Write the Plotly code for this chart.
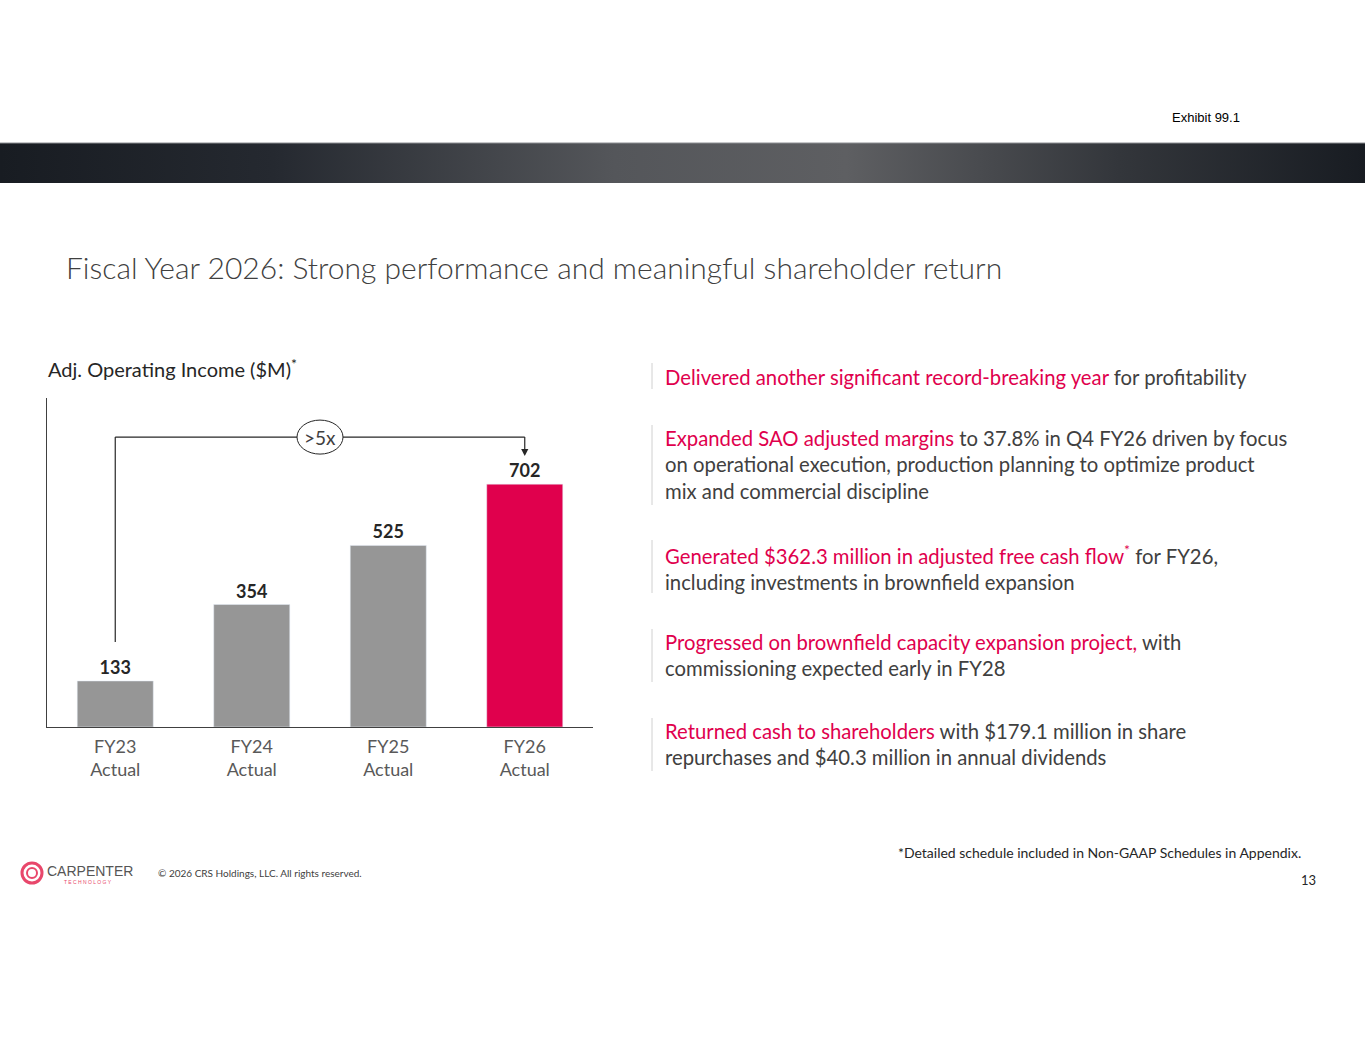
import plotly.graph_objects as go

# chart data
categories = ["FY23", "FY24", "FY25", "FY26"]
tick_labels = ["FY23<br>Actual", "FY24<br>Actual", "FY25<br>Actual", "FY26<br>Actual"]
income = [133, 354, 525, 702]
bar_colors = ["#969696", "#969696", "#969696", "#e0004d"]

# bracket levels (in $M units on the chart scale)
bracket_start = 246
bracket_top = 838
arrow_tip = 783
multiple_label = ">5x"

W, H = 1365, 1055
RED = "#e0004d"
DARK = "#404040"
FONT = "Lato"


def px(x):
    return x / W


def py(y):
    return 1 - y / H


fig = go.Figure()

fig.add_trace(go.Bar(
    x=categories, y=income, marker_color=bar_colors,
    texttemplate="<b>%{y}</b>", textposition="outside",
    textfont=dict(family=FONT, size=18, color="#262626"),
    cliponaxis=False, hoverinfo="skip", xaxis="x", yaxis="y",
))

# header band with horizontal gradient
fig.add_trace(go.Scatter(
    x=[0, 1, 1, 0, 0], y=[0, 0, 1, 1, 0], mode="lines", fill="toself",
    line=dict(width=0), hoverinfo="skip", xaxis="x2", yaxis="y2",
    fillgradient=dict(type="horizontal", colorscale=[
        [0, "#181c22"], [0.2, "#252930"], [0.45, "#54565a"],
        [0.62, "#5e5f62"], [0.82, "#33363b"], [1, "#181c22"]]),
))

shapes = [
    # bracket
    dict(type="line", xref="x", yref="y", x0=0, x1=0, y0=bracket_start, y1=bracket_top,
         line=dict(color="#262626", width=1.2)),
    dict(type="line", xref="x", yref="y", x0=0, x1=3, y0=bracket_top, y1=bracket_top,
         line=dict(color="#262626", width=1.2)),
    dict(type="line", xref="x", yref="y", x0=3, x1=3, y0=bracket_top, y1=arrow_tip + 15,
         line=dict(color="#262626", width=1.2)),
    dict(type="circle", xref="x", yref="y", xsizemode="pixel", ysizemode="pixel",
         xanchor=1.5, yanchor=bracket_top, x0=-23, x1=23, y0=-17, y1=17,
         fillcolor="white", line=dict(color="#262626", width=1)),
    # top line of header band
    dict(type="line", xref="paper", yref="paper", x0=0, x1=1, y0=py(143), y1=py(143),
         line=dict(color="#8c8e92", width=1)),
    # logo ring
    dict(type="circle", xref="paper", yref="paper", x0=px(22), x1=px(42), y0=py(883), y1=py(863),
         line=dict(color="#e8476b", width=3)),
    dict(type="circle", xref="paper", yref="paper", x0=px(27), x1=px(37), y0=py(878), y1=py(868),
         line=dict(color="#e8476b", width=2)),
]

# separators for the right-hand text blocks
blocks = [(363, 389), (425, 505), (540, 593), (629, 682), (718, 771)]
for top, bot in blocks:
    shapes.append(dict(type="line", xref="paper", yref="paper", x0=px(652), x1=px(652),
                       y0=py(top), y1=py(bot), line=dict(color="#d0d0d0", width=1)))

r = lambda s: '<span style="color:%s">%s</span>' % (RED, s)
bullets = [
    r("Delivered another significant record-breaking year") + " for profitability",
    r("Expanded SAO adjusted margins") + " to 37.8% in Q4 FY26 driven by focus<br>"
    "on operational execution, production planning to optimize product<br>mix and commercial discipline",
    r("Generated $362.3 million in adjusted free cash flow<sup>*</sup>") + " for FY26,<br>"
    "including investments in brownfield expansion",
    r("Progressed on brownfield capacity expansion project,") + " with<br>"
    "commissioning expected early in FY28",
    r("Returned cash to shareholders") + " with $179.1 million in share<br>"
    "repurchases and $40.3 million in annual dividends",
]

annotations = [
    dict(text="Exhibit 99.1", x=px(1170), y=py(117), xanchor="left", yanchor="middle",
         font=dict(family="Liberation Sans", size=13, color="#000000")),
    dict(text="Fiscal Year 2026: Strong performance and meaningful shareholder return",
         x=px(64), y=py(267), xanchor="left", yanchor="middle",
         font=dict(family=FONT, size=30, color=DARK, weight=300)),
    dict(text="Adj. Operating Income ($M)<sup>*</sup>", x=px(46), y=py(368),
         xanchor="left", yanchor="middle", font=dict(family=FONT, size=20, color="#262626")),
    dict(text=multiple_label, xref="x", yref="y", x=1.5, y=bracket_top, showarrow=False,
         font=dict(family=FONT, size=19, color=DARK)),
    dict(text="", xref="x", yref="y", x=3, y=arrow_tip, axref="x", ayref="y", ax=3, ay=arrow_tip + 16,
         showarrow=True, arrowhead=2, arrowsize=1.2, arrowwidth=1.2, arrowcolor="#262626"),
    dict(text="*Detailed schedule included in Non-GAAP Schedules in Appendix.",
         x=px(1303), y=py(852), xanchor="right", yanchor="middle",
         font=dict(family=FONT, size=14, color="#262626")),
    dict(text="13", x=px(1318), y=py(880), xanchor="right", yanchor="middle",
         font=dict(family=FONT, size=13, color="#262626")),
    dict(text="CARPENTER", x=px(45), y=py(871), xanchor="left", yanchor="middle",
         font=dict(family="Liberation Sans", size=14, color="#555555")),
    dict(text="T E C H N O L O G Y", x=px(62), y=py(882), xanchor="left", yanchor="middle",
         font=dict(family="Liberation Sans", size=5, color="#e8476b")),
    dict(text="© 2026 CRS Holdings, LLC. All rights reserved.", x=px(156), y=py(873),
         xanchor="left", yanchor="middle", font=dict(family=FONT, size=10, color="#404040")),
]
tops = [363, 424, 539, 628, 717]
for t, b in zip(tops, bullets):
    annotations.append(dict(text=b, x=px(663), y=py(t), xanchor="left", yanchor="top",
                            align="left", font=dict(family=FONT, size=20.3, color=DARK)))

for a in annotations:
    a.setdefault("xref", "paper")
    a.setdefault("yref", "paper")
    a.setdefault("showarrow", False)

fig.update_layout(
    width=W, height=H, margin=dict(l=0, r=0, t=0, b=0),
    paper_bgcolor="white", plot_bgcolor="white", showlegend=False,
    bargap=0.443,
    xaxis=dict(domain=[px(47), px(593)], range=[-0.5, 3.5], type="category",
               tickmode="array", tickvals=categories, ticktext=tick_labels,
               tickfont=dict(family=FONT, size=18, color="#595959"), ticklabelstandoff=3,
               showline=True, linecolor="#404040", linewidth=1.2, ticks="",
               showgrid=False, zeroline=False, fixedrange=True),
    yaxis=dict(domain=[py(727), py(398)], range=[0, 951], showline=True,
               linecolor="#404040", linewidth=1.2, showticklabels=False, ticks="",
               showgrid=False, zeroline=False, fixedrange=True),
    xaxis2=dict(domain=[0, 1], range=[0, 1], visible=False, anchor="y2", fixedrange=True),
    yaxis2=dict(domain=[py(183), py(143)], range=[0, 1], visible=False, anchor="x2", fixedrange=True),
    shapes=shapes, annotations=annotations,
)

fig.write_html("out.html", config={"displayModeBar": False},
               post_script="document.body.style.margin='0';")
